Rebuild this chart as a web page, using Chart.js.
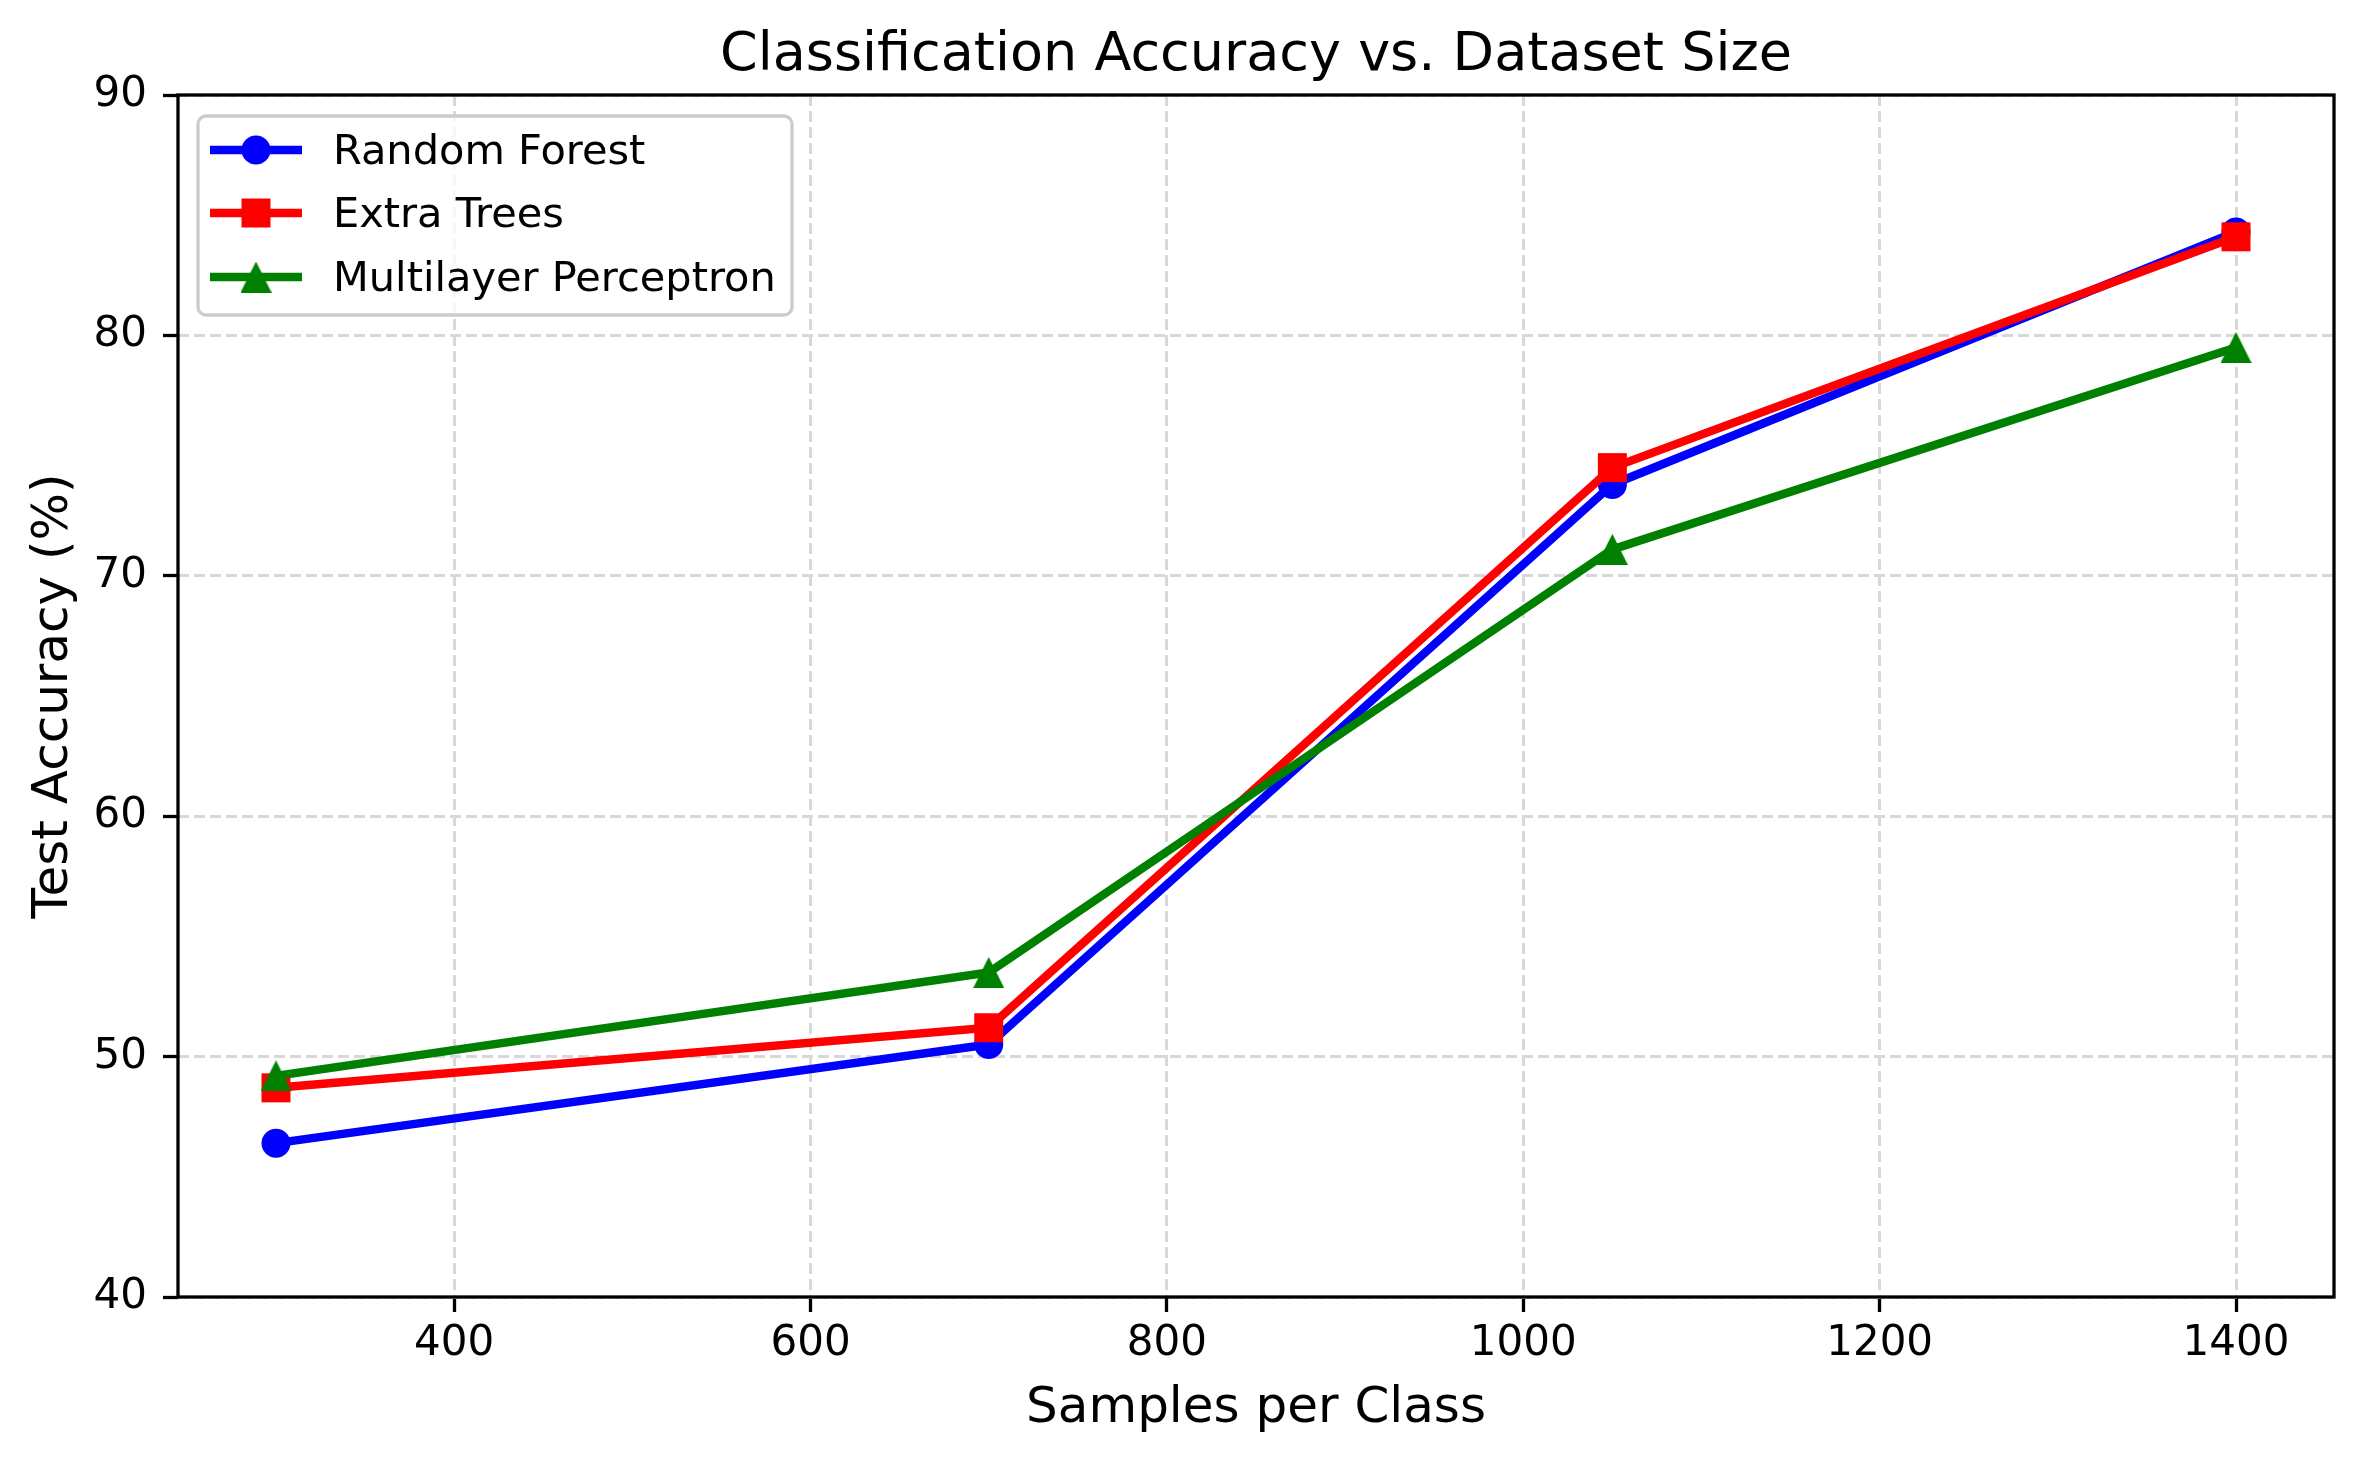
<!DOCTYPE html>
<html>
<head>
<meta charset="utf-8">
<script src="https://cdn.jsdelivr.net/npm/chart.js@4.4.1/dist/chart.umd.min.js"></script>
<style>
  body { margin: 0; background: #fff; }
  #wrap { width: 2364px; height: 1462px; }
</style>
</head>
<body>
<div id="wrap"><canvas id="myChart" width="2364" height="1462"></canvas></div>
<script>
// data
const samplesPerClass = [300, 700, 1050, 1400];
const randomForest = [46.4, 50.5, 73.8, 84.3];
const extraTrees = [48.7, 51.2, 74.5, 84.1];
const mlp = [49.2, 53.5, 71.1, 79.5];
const seriesNames = ['Random Forest', 'Extra Trees', 'Multilayer Perceptron'];
const xTicks = [400, 600, 800, 1000, 1200, 1400];
const yTicks = [40, 50, 60, 70, 80, 90];

const FONT = "'DejaVu Sans', sans-serif";

// matplotlib style '^' marker, centred on its half height
function makeTriangle(size, color) {
    const c = document.createElement('canvas');
    c.width = size;
    c.height = size;
    const g = c.getContext('2d');
    g.fillStyle = color;
    g.beginPath();
    g.moveTo(size / 2, 0);
    g.lineTo(size, size);
    g.lineTo(0, size);
    g.closePath();
    g.fill();
    return c;
}

const tri = makeTriangle(31, '#008000');

function toPoints(values) {
    return samplesPerClass.map((x, i) => ({x: x, y: values[i]}));
}

const seriesStyles = [
    {color: '#0000ff', pointStyle: 'circle', radius: 14.5},
    {color: '#ff0000', pointStyle: 'rect', radius: 20.5},
    {color: '#008000', pointStyle: tri, radius: 15.5}
];
const seriesData = [randomForest, extraTrees, mlp];

const datasets = seriesData.map((vals, i) => ({
    label: seriesNames[i],
    data: toPoints(vals),
    borderColor: seriesStyles[i].color,
    backgroundColor: seriesStyles[i].color,
    pointBackgroundColor: seriesStyles[i].color,
    pointStyle: seriesStyles[i].pointStyle,
    pointRadius: seriesStyles[i].radius,
    pointBorderWidth: 0,
    borderWidth: 8.5,
    tension: 0,
    order: 3 - i
}));

// frame + legend box drawn on top like matplotlib
const framePlugin = {
    id: 'frame',
    afterDatasetsDraw(chart) {
        const ctx = chart.ctx;
        const a = chart.chartArea;
        ctx.save();
        ctx.strokeStyle = '#000';
        ctx.lineWidth = 3.3;
        ctx.strokeRect(a.left, a.top, a.right - a.left, a.bottom - a.top);
        ctx.restore();
    },
    afterDraw(chart) {
        const ctx = chart.ctx;
        const a = chart.chartArea;
        const bx = a.left + 20, by = a.top + 21, bw = 594, bh = 199;
        ctx.save();
        ctx.beginPath();
        ctx.roundRect(bx, by, bw, bh, 8);
        ctx.fillStyle = 'rgba(255,255,255,0.8)';
        ctx.fill();
        ctx.strokeStyle = '#cccccc';
        ctx.lineWidth = 3.3;
        ctx.stroke();

        const rows = [by + 34, by + 97, by + 161];
        seriesNames.forEach(function(name, i) {
            const st = seriesStyles[i];
            const y = rows[i];
            ctx.strokeStyle = st.color;
            ctx.lineWidth = 8.5;
            ctx.beginPath();
            ctx.moveTo(bx + 12, y);
            ctx.lineTo(bx + 104, y);
            ctx.stroke();
            ctx.fillStyle = st.color;
            Chart.helpers.drawPoint(ctx, {pointStyle: st.pointStyle, radius: st.radius, borderWidth: 0, rotation: 0}, bx + 58, y);
            ctx.fillStyle = '#000';
            ctx.font = '41.5px ' + FONT;
            ctx.textBaseline = 'middle';
            ctx.textAlign = 'left';
            ctx.fillText(name, bx + 135, y + 3);
        });
        ctx.restore();
    }
};

const ctx = document.getElementById('myChart').getContext('2d');
new Chart(ctx, {
    type: 'line',
    data: {datasets: datasets},
    plugins: [framePlugin],
    options: {
        responsive: false,
        animation: false,
        devicePixelRatio: 1,
        layout: {padding: {left: 0, right: 30, top: 0, bottom: 0}},
        plugins: {
            legend: {display: false},
            tooltip: {enabled: false},
            title: {
                display: true,
                fullSize: false,
                text: 'Classification Accuracy vs. Dataset Size',
                color: '#000',
                font: {family: FONT, size: 54, weight: 'normal'},
                padding: {top: 24, bottom: 6.2}
            }
        },
        scales: {
            x: {
                type: 'linear',
                min: 245,
                max: 1455,
                afterBuildTicks: function(scale) {
                    scale.ticks = xTicks.map(v => ({value: v}));
                },
                afterFit: function(scale) { scale.height = 165; },
                ticks: {
                    color: '#000',
                    font: {family: FONT, size: 42},
                    padding: 7,
                    maxRotation: 0,
                    autoSkip: false,
                    callback: function(v) { return String(v); }
                },
                grid: {
                    color: '#d8d8d8',
                    lineWidth: 3,
                    tickLength: 15,
                    tickColor: '#000',
                    tickWidth: 3.3,
                    tickBorderDash: []
                },
                border: {display: false, dash: [11, 5]},
                title: {
                    display: true,
                    text: 'Samples per Class',
                    color: '#000',
                    font: {family: FONT, size: 50},
                    padding: {top: 0, bottom: 23}
                }
            },
            y: {
                min: 40,
                max: 90,
                afterBuildTicks: function(scale) {
                    scale.ticks = yTicks.map(v => ({value: v}));
                },
                afterFit: function(scale) { scale.width = 178; },
                ticks: {
                    color: '#000',
                    font: {family: FONT, size: 42},
                    padding: 16,
                    callback: function(v) { return String(v); }
                },
                grid: {
                    color: '#d8d8d8',
                    lineWidth: 3,
                    tickLength: 15,
                    tickColor: '#000',
                    tickWidth: 3.3,
                    tickBorderDash: []
                },
                border: {display: false, dash: [11, 5]},
                title: {
                    display: true,
                    text: 'Test Accuracy (%)',
                    color: '#000',
                    font: {family: FONT, size: 50},
                    padding: {top: 24, bottom: 0}
                }
            }
        }
    }
});
</script>
</body>
</html>
